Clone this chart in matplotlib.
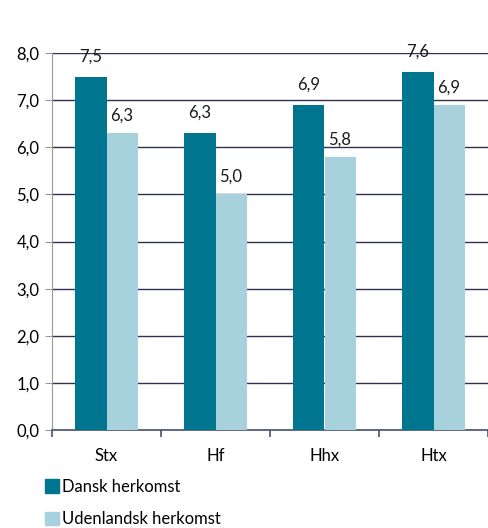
import numpy as np
import matplotlib.pyplot as plt
from matplotlib.ticker import FuncFormatter

plt.rcParams['font.family'] = ['Lato', 'DejaVu Sans']

# data
categories = ["Stx", "Hf", "Hhx", "Htx"]
dansk = [7.5, 6.3, 6.9, 7.6]
udenlandsk = [6.3, 5.0, 5.8, 6.9]
series_names = ["Dansk herkomst", "Udenlandsk herkomst"]

dark = "#00758f"
light = "#a8d1de"

fig = plt.figure(figsize=(4.88, 5.28), dpi=100)
ax = fig.add_axes([52/488, 1 - 430/528, 436/488, 377/528])

x = np.arange(len(categories))
w = 0.285
b1 = ax.bar(x - w/2, dansk, w, color=dark, zorder=3)
b2 = ax.bar(x + w/2, udenlandsk, w, color=light, zorder=3)

def fmt(v):
    return f"{v:.1f}".replace(".", ",")

for rect, v in zip(b1, dansk):
    ax.text(rect.get_x() + rect.get_width()/2, v + 0.26, fmt(v),
            ha="center", va="bottom", fontsize=12, color="#1a1a1a")
for rect, v in zip(b2, udenlandsk):
    ax.text(rect.get_x() + rect.get_width()/2, v + 0.2, fmt(v),
            ha="center", va="bottom", fontsize=12, color="#1a1a1a")

ax.set_xlim(-0.5, len(categories) - 0.5)
ax.set_ylim(0, 8)
ax.set_yticks(np.arange(0, 8.1, 1))
ax.yaxis.set_major_formatter(FuncFormatter(lambda v, p: fmt(v)))
ax.grid(axis="y", color="#2e3152", linewidth=1, zorder=0)

ax.set_xticks(x)
ax.set_xticklabels(categories)
ax.set_xticks(np.arange(-0.5, len(categories)), minor=True)
ax.tick_params(axis="x", which="major", length=0, pad=13, labelsize=12)
ax.tick_params(axis="x", which="minor", length=5, color="#4a5070", width=1.2)
ax.tick_params(axis="y", length=5, color="#999999", labelsize=12, pad=4)

for s in ["top", "right"]:
    ax.spines[s].set_visible(False)
ax.spines["left"].set_color("#999999")
ax.spines["bottom"].set_color("#4a5070")
ax.spines["bottom"].set_linewidth(1.2)

handles = [plt.Rectangle((0, 0), 1, 1, color=dark),
           plt.Rectangle((0, 0), 1, 1, color=light)]
fig.legend(handles, series_names, loc="upper left",
           bbox_to_anchor=(38/488, 1 - 472/528), frameon=False,
           fontsize=12, handlelength=0.85, handleheight=0.85,
           handletextpad=0.2, labelspacing=1.0, borderaxespad=0)

fig.savefig("out.png", dpi=100)
